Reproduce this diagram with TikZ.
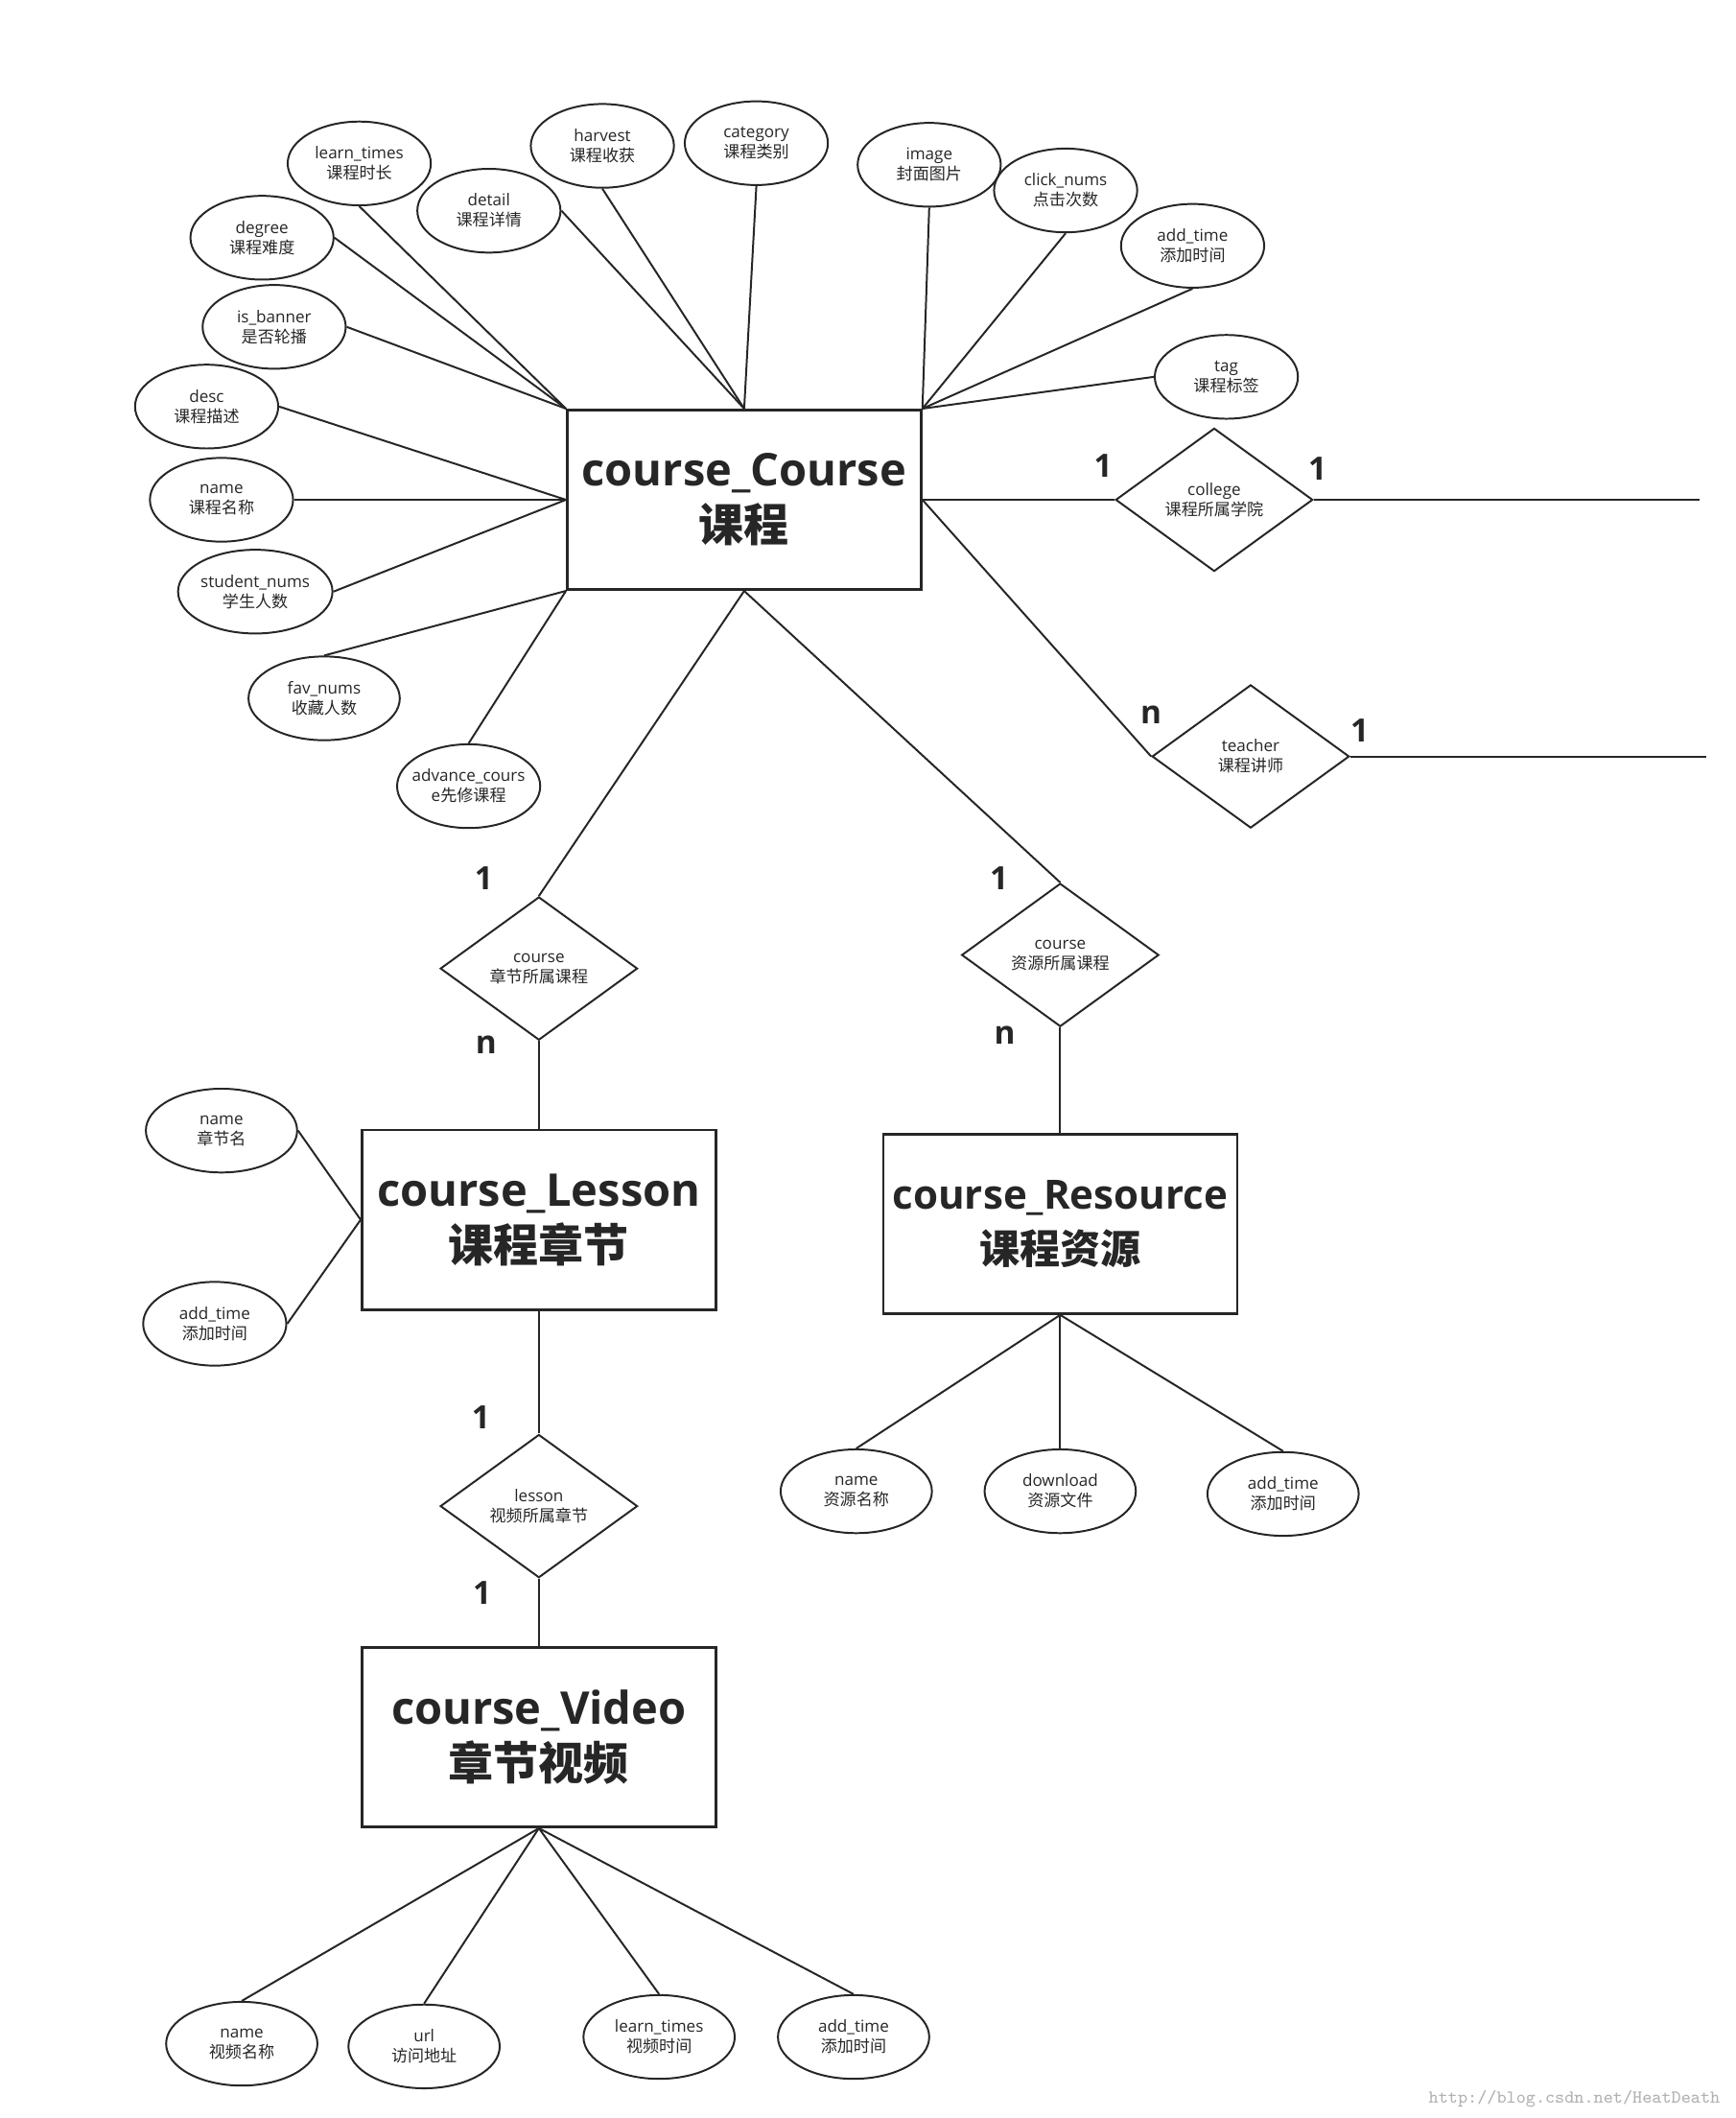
\documentclass[tikz,border=0pt]{standalone}
\usepackage{fontspec}
\setmainfont{Open Sans}
\newfontfamily\cjk{Noto Sans CJK SC}
\usetikzlibrary{shapes.geometric,positioning}

\begin{document}
\begin{tikzpicture}[line width=0.8pt, draw=black!85, text=black!85, node distance=2cm, on grid,
    entity/.style={draw, rectangle, line width=1.1pt, minimum width=52.4mm, minimum height=26.6mm, align=center, font=\bfseries\fontsize{19}{23.5}\selectfont},
    attr/.style={draw, ellipse, minimum width=21.2mm, minimum height=12.4mm, inner sep=0pt, align=center, font=\fontsize{6.9}{8.5}\selectfont},
    wide/.style={minimum width=22.4mm},
    rel/.style={draw, diamond, minimum width=29.2mm, minimum height=21.2mm, inner sep=0pt, align=center, font=\fontsize{6.9}{8.5}\selectfont},
    card/.style={inner sep=0pt, font=\bfseries\fontsize{13.5}{14}\selectfont}]
    \useasboundingbox (0,0) rectangle (25.70,-31.36);

    \node[entity] (e_course) at (11.02,-7.40) {course\_Course\\{\cjk 课程}};
    \node[attr, above left=4.98cm and 5.70cm of e_course]  (a_learntimes)  {learn\_times\\{\cjk 课程时长}};
    \node[attr, above left=3.88cm and 7.14cm of e_course]  (a_degree)      {degree\\{\cjk 课程难度}};
    \node[attr, above left=2.56cm and 6.96cm of e_course]  (a_isbanner)    {is\_banner\\{\cjk 是否轮播}};
    \node[attr, above left=1.38cm and 7.96cm of e_course]  (a_desc)        {desc\\{\cjk 课程描述}};
    \node[attr, left=7.74cm of e_course]                   (a_name)        {name\\{\cjk 课程名称}};
    \node[attr, wide, below left=1.36cm and 7.24cm of e_course] (a_studentnums) {student\_nums\\{\cjk 学生人数}};
    \node[attr, wide, below left=2.94cm and 6.22cm of e_course] (a_favnums)     {fav\_nums\\{\cjk 收藏人数}};
    \node[attr, inner xsep=-4pt, below left=4.24cm and 4.08cm of e_course] (a_advance) {advance\_cours\\e{\cjk 先修课程}};
    \node[attr, above left=4.28cm and 3.78cm of e_course]  (a_detail)      {detail\\{\cjk 课程详情}};
    \node[attr, above left=5.24cm and 2.10cm of e_course]  (a_harvest)     {harvest\\{\cjk 课程收获}};
    \node[attr, above right=5.28cm and 0.18cm of e_course] (a_category)    {category\\{\cjk 课程类别}};
    \node[attr, above right=4.96cm and 2.74cm of e_course] (a_image)       {image\\{\cjk 封面图片}};
    \node[attr, above right=4.58cm and 4.76cm of e_course] (a_clicknums)   {click\_nums\\{\cjk 点击次数}};
    \node[attr, above right=3.76cm and 6.64cm of e_course] (a_addtime)     {add\_time\\{\cjk 添加时间}};
    \node[attr, above right=1.82cm and 7.14cm of e_course] (a_tag)         {tag\\{\cjk 课程标签}};

    \node[rel, right=6.96cm of e_course]                       (r_college)        {college\\{\cjk 课程所属学院}};
    \node[rel, below right=3.80cm and 7.50cm of e_course]      (r_teacher)        {teacher\\{\cjk 课程讲师}};
    \node[rel, below left=6.94cm and 3.04cm of e_course]       (r_lessoncourse)   {course\\{\cjk 章节所属课程}};
    \node[rel, below right=6.74cm and 4.68cm of e_course]      (r_resourcecourse) {course\\{\cjk 资源所属课程}};
    \coordinate[right=7.18cm of r_college] (c_college);
    \coordinate[right=6.74cm of r_teacher] (c_teacher);

    \node[entity, below=3.72cm of r_lessoncourse] (e_lesson) {course\_Lesson\\{\cjk 课程章节}};
    \node[attr, wide, above left=1.32cm and 4.70cm of e_lesson] (a_lessonname)    {name\\{\cjk 章节名}};
    \node[attr, below left=1.54cm and 4.80cm of e_lesson]       (a_lessonaddtime) {add\_time\\{\cjk 添加时间}};
    \node[rel, below=4.24cm of e_lesson] (r_lesson) {lesson\\{\cjk 视频所属章节}};

    \node[entity, below=3.42cm of r_lesson] (e_video) {course\_Video\\{\cjk 章节视频}};
    \node[attr, wide, below left=4.54cm and 4.40cm of e_video]  (a_videoname)    {name\\{\cjk 视频名称}};
    \node[attr, wide, below left=4.58cm and 1.70cm of e_video]  (a_url)          {url\\{\cjk 访问地址}};
    \node[attr, wide, below right=4.44cm and 1.78cm of e_video] (a_videolearn)   {learn\_times\\{\cjk 视频时间}};
    \node[attr, wide, below right=4.44cm and 4.66cm of e_video] (a_videoaddtime) {add\_time\\{\cjk 添加时间}};

    \node[entity, font=\bfseries\fontsize{17}{23}\selectfont, below=3.98cm of r_resourcecourse] (e_resource) {course\_Resource\\{\cjk 课程资源}};
    \node[attr, wide, below left=3.96cm and 3.02cm of e_resource]  (a_resname)    {name\\{\cjk 资源名称}};
    \node[attr, wide, below=3.96cm of e_resource]                  (a_download)   {download\\{\cjk 资源文件}};
    \node[attr, wide, below right=4.00cm and 3.30cm of e_resource] (a_resaddtime) {add\_time\\{\cjk 添加时间}};

    \node[anchor=east, text=black!30, font=\ttfamily\fontsize{7.7}{8}\selectfont] (n_mark) at (25.60,-31.08) {http://blog.csdn.net/HeatDeath};

    \draw
        (a_learntimes.south) edge (e_course.north west)
        (a_degree.east) edge (e_course.north west)
        (a_isbanner.east) edge (e_course.north west)
        (a_desc.east) edge (e_course.west)
        (a_name.east) edge (e_course.west)
        (a_studentnums.east) edge (e_course.west)
        (a_favnums.north) edge (e_course.south west)
        (a_advance.north) edge (e_course.south west)
        (a_detail.east) edge (e_course.north)
        (a_harvest.south) edge (e_course.north)
        (a_category.south) edge (e_course.north)
        (a_image.south) edge (e_course.north east)
        (a_clicknums.south) edge (e_course.north east)
        (a_addtime.south) edge (e_course.north east)
        (a_tag.west) edge (e_course.north east)
        ;

    \draw
        (e_course.east) edge node[card, pos=0.94, yshift=5mm] {1} (r_college.west)
        (r_college.east) edge node[card, pos=0.01, yshift=4.6mm] {1} (c_college)
        (e_course.east) edge node[card, pos=1, yshift=6.2mm] {n} (r_teacher.west)
        (r_teacher.east) edge node[card, pos=0.027, yshift=3.8mm] {1} (c_teacher)
        (e_course.south) edge node[card, pos=0.943, xshift=-9.9mm] {1} (r_lessoncourse.north)
        (r_lessoncourse.south) edge node[card, pos=0.045, xshift=-7.8mm] {n} (e_lesson.north)
        (e_course.south) edge node[card, pos=0.986, xshift=-8.4mm] {1} (r_resourcecourse.north)
        (r_resourcecourse.south) edge node[card, pos=0.075, xshift=-8.2mm] {n} (e_resource.north)
        (e_lesson.south) edge node[card, pos=0.87, xshift=-8.6mm] {1} (r_lesson.north)
        (r_lesson.south) edge node[card, pos=0.21, xshift=-8.4mm] {1} (e_video.north)
        ;

    \draw
        (a_lessonname.east) edge (e_lesson.west)
        (a_lessonaddtime.east) edge (e_lesson.west)
        (a_resname.north) edge (e_resource.south)
        (a_download.north) edge (e_resource.south)
        (a_resaddtime.north) edge (e_resource.south)
        (a_videoname.north) edge (e_video.south)
        (a_url.north) edge (e_video.south)
        (a_videolearn.north) edge (e_video.south)
        (a_videoaddtime.north) edge (e_video.south)
        ;
\end{tikzpicture}
\end{document}
